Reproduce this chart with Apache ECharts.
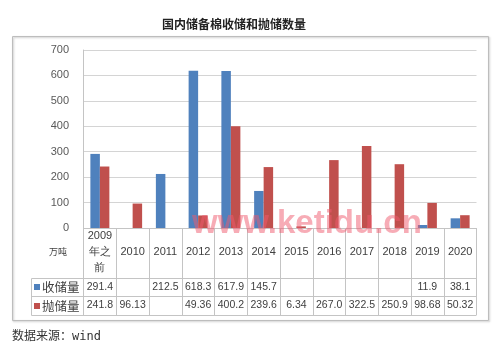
<!DOCTYPE html>
<html>
<head>
<meta charset="utf-8">
<script src="https://cdn.jsdelivr.net/npm/echarts@6/dist/echarts.min.js"></script>
<style>
	html, body { margin: 0; padding: 0; background: #fff; }
	#chart { width: 499px; height: 353px; }
</style>
</head>
<body>
<div id="chart"></div>
<script>
	// 年份
	var years = ['2009\n年之\n前', '2010', '2011', '2012', '2013', '2014', '2015', '2016', '2017', '2018', '2019', '2020'];
	// 收储量 / 抛储量（万吨），表格里的原样文字
	var shouText = ['291.4', '', '212.5', '618.3', '617.9', '145.7', '', '', '', '', '11.9', '38.1'];
	var paoText = ['241.8', '96.13', '', '49.36', '400.2', '239.6', '6.34', '267.0', '322.5', '250.9', '98.68', '50.32'];
	var yTicks = [0, 100, 200, 300, 400, 500, 600, 700];

	function toNum(s) { return s === '' ? null : parseFloat(s); }
	var shouData = shouText.map(toNum);
	var paoData = paoText.map(toNum);

	var chart = echarts.init(document.getElementById('chart'));
	var lineColor = '#c4c4c4';
	var font = "'Liberation Sans', Arial, sans-serif";
	var cjk = "'Noto Sans CJK SC', sans-serif";

	var option = {
		animation: false,
		color: ['#4f81bd', '#c0504d'],
		title: {
			text: '国内储备棉收储和抛储数量',
			left: 157,
			top: 13,
			textStyle: { fontFamily: cjk, fontSize: 12, fontWeight: 'bold', color: '#222' }
		},
		legend: {
			orient: 'vertical',
			left: 34,
			top: 280,
			padding: 0,
			itemWidth: 6,
			itemHeight: 6,
			itemGap: 5,
			icon: 'rect',
			textStyle: { fontFamily: cjk, fontSize: 12.5, color: '#404040', lineHeight: 14, padding: [0, 0, 0, -3] },
			data: ['收储量', '抛储量']
		},
		grid: { left: 83.5, right: 22.5, top: 50, bottom: 125 },
		xAxis: [{
			type: 'category',
			data: years,
			axisLine: { lineStyle: { color: lineColor } },
			axisTick: { show: true, interval: 0, length: 87, lineStyle: { color: lineColor } },
			axisLabel: { interval: 0, margin: 24, verticalAlign: 'middle', lineHeight: 16, fontFamily: font, fontSize: 11, color: '#404040' }
		}, {
			type: 'category',
			data: shouText,
			position: 'bottom',
			axisLine: { show: false },
			axisTick: { show: false },
			axisLabel: { interval: 0, margin: 59, verticalAlign: 'middle', fontFamily: font, fontSize: 10.5, color: '#404040' }
		}, {
			type: 'category',
			data: paoText,
			position: 'bottom',
			axisLine: { show: false },
			axisTick: { show: false },
			axisLabel: { interval: 0, margin: 77.5, verticalAlign: 'middle', fontFamily: font, fontSize: 10.5, color: '#404040' }
		}],
		yAxis: {
			type: 'value',
			min: yTicks[0],
			max: yTicks[yTicks.length - 1],
			interval: 100,
			axisLine: { show: true, lineStyle: { color: lineColor } },
			axisTick: { show: false },
			splitLine: { lineStyle: { color: '#d4d4d4' } },
			axisLabel: { margin: 14.5, fontFamily: font, fontSize: 11, color: '#595959' }
		},
		series: [{
			name: '收储量',
			type: 'bar',
			barWidth: 9.5,
			barGap: '0%',
			data: shouData
		}, {
			name: '抛储量',
			type: 'bar',
			barWidth: 9.5,
			data: paoData
		}],
		graphic: [
			// 外框
			{ type: 'rect', shape: { x: 12.5, y: 36.5, width: 476, height: 284 },
			  style: { fill: 'none', stroke: '#bdbdbd', lineWidth: 1, shadowColor: 'rgba(0,0,0,0.25)', shadowBlur: 2, shadowOffsetX: 1, shadowOffsetY: 1 }, z: 0 },
			// 数据表横线
			{ type: 'line', shape: { x1: 31.5, y1: 278.5, x2: 476.5, y2: 278.5 }, style: { stroke: lineColor } },
			{ type: 'line', shape: { x1: 31.5, y1: 296.5, x2: 476.5, y2: 296.5 }, style: { stroke: lineColor } },
			{ type: 'line', shape: { x1: 31.5, y1: 315.5, x2: 476.5, y2: 315.5 }, style: { stroke: lineColor } },
			{ type: 'line', shape: { x1: 31.5, y1: 278.5, x2: 31.5, y2: 315.5 }, style: { stroke: lineColor } },
			// 单位
			{ type: 'text', left: 49, top: 247, style: { text: '万吨', font: '9px ' + cjk, fill: '#404040' } },
			// 来源
			{ type: 'text', left: 12, top: 331, style: { text: '数据来源：wind', font: "12px 'DejaVu Sans Mono', 'Noto Sans CJK SC', monospace", fill: '#333' } },
			// 水印
			{ type: 'text', left: 192, top: 207, z: 100, style: { text: 'www.ketidu.cn', font: "bold 33px 'Liberation Sans', Arial, sans-serif", fill: 'rgba(240, 90, 110, 0.5)' } }
		]
	};
	chart.setOption(option);
</script>
</body>
</html>
